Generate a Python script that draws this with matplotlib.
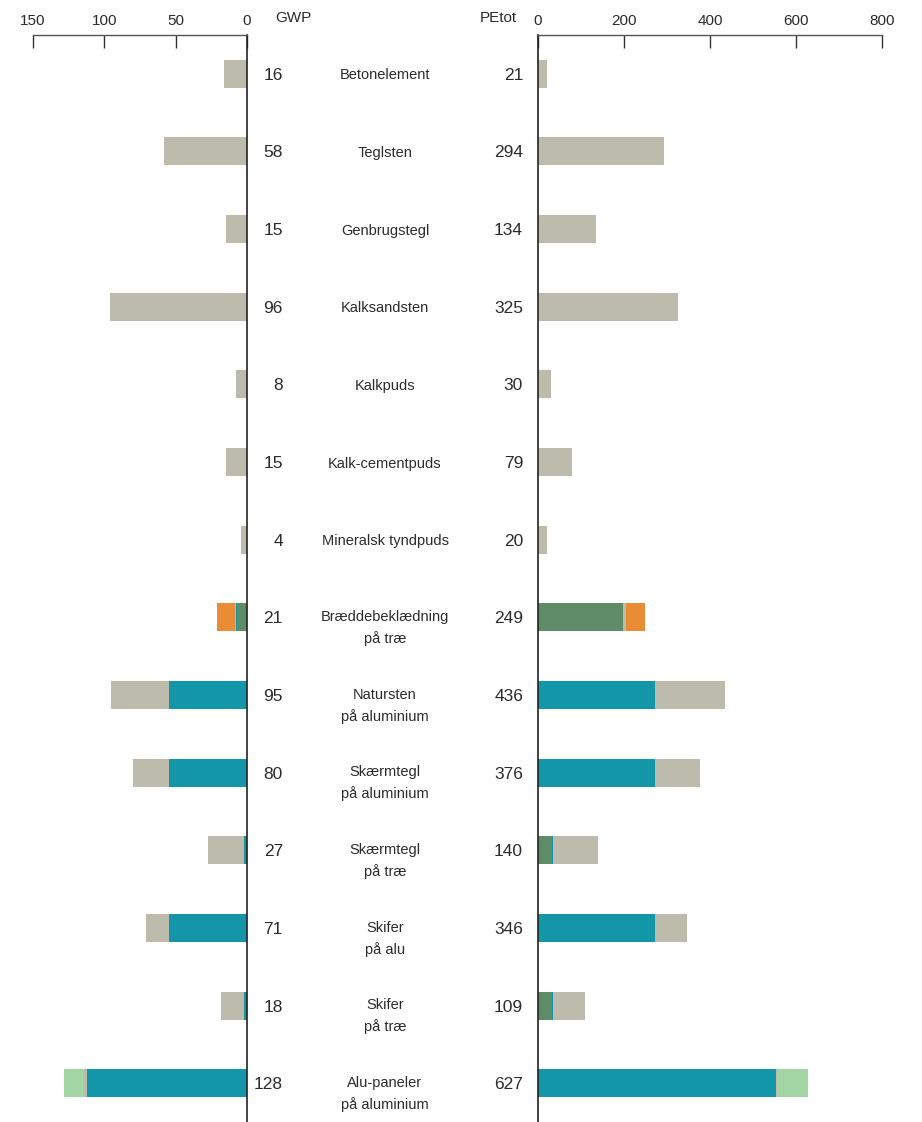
"""Butterfly bar chart: GWP vs PEtot per facade material"""
import matplotlib
matplotlib.use("Agg")
import matplotlib.pyplot as plt
import numpy as np
from matplotlib.transforms import blended_transform_factory

plt.rcParams['font.family'] = ['Liberation Sans', 'DejaVu Sans']

materials = [
    "Betonelement", "Teglsten", "Genbrugstegl", "Kalksandsten", "Kalkpuds",
    "Kalk-cementpuds", "Mineralsk tyndpuds", "Bræddebeklædning\npå træ",
    "Natursten\npå aluminium", "Skærmtegl\npå aluminium", "Skærmtegl\npå træ",
    "Skifer\npå alu", "Skifer\npå træ", "Alu-paneler\npå aluminium",
]

# stack order from the axis outwards: wood, alu, other, paint, lightgreen
gwp_wood = [0, 0, 0, 0, 0, 0, 0, 7, 0, 0, 0.7, 0, 0.7, 0]
gwp_alu = [0, 0, 0, 0, 0, 0, 0, 0.5, 55, 55, 1.3, 55, 1.3, 112.5]
gwp_other = [16, 58, 15, 96, 8, 15, 4, 1, 40, 25, 25, 16, 16, 1.5]
gwp_paint = [0, 0, 0, 0, 0, 0, 0, 12.5, 0, 0, 0, 0, 0, 0]
gwp_extra = [0, 0, 0, 0, 0, 0, 0, 0, 0, 0, 0, 0, 0, 14]
gwp_total = [16, 58, 15, 96, 8, 15, 4, 21, 95, 80, 27, 71, 18, 128]

pe_wood = [0, 0, 0, 0, 0, 0, 0, 197, 0, 0, 33, 0, 33, 0]
pe_alu = [0, 0, 0, 0, 0, 0, 0, 1, 272, 272, 2, 272, 2, 554]
pe_other = [21, 294, 134, 325, 30, 79, 20, 7, 164, 104, 105, 74, 74, 2]
pe_paint = [0, 0, 0, 0, 0, 0, 0, 44, 0, 0, 0, 0, 0, 0]
pe_extra = [0, 0, 0, 0, 0, 0, 0, 0, 0, 0, 0, 0, 0, 71]
pe_total = [21, 294, 134, 325, 30, 79, 20, 249, 436, 376, 140, 346, 109, 627]

colors = ["#5e8c67", "#1396a8", "#bdbbab", "#e88c36", "#a3d4a4"]
text_col = "#2b2b2b"

W, H = 922, 1122
fig = plt.figure(figsize=(W / 100, H / 100), dpi=100)

top = 35
ax_l = fig.add_axes([33 / W, 0, 214 / W, (H - top) / H])
ax_r = fig.add_axes([538 / W, 0, 344 / W, (H - top) / H])

y = np.arange(len(materials))
bar_h = 0.36


def stack(ax, parts):
    left = np.zeros(len(y))
    for vals, c in zip(parts, colors):
        vals = np.array(vals, dtype=float)
        ax.barh(y, vals, left=left, height=bar_h, color=c, linewidth=0)
        left += vals


stack(ax_l, [gwp_wood, gwp_alu, gwp_other, gwp_paint, gwp_extra])
stack(ax_r, [pe_wood, pe_alu, pe_other, pe_paint, pe_extra])

ax_l.set_xlim(150, 0)
ax_r.set_xlim(0, 800)
ax_l.set_xticks([150, 100, 50, 0])
ax_r.set_xticks([0, 200, 400, 600, 800])

for ax, keep in ((ax_l, "right"), (ax_r, "left")):
    ax.set_ylim(13.5, -0.5)
    ax.set_yticks([])
    for side in ("left", "right", "bottom"):
        ax.spines[side].set_visible(side == keep)
    ax.spines[keep].set_color("#222222")
    ax.spines[keep].set_linewidth(1.2)
    ax.spines["top"].set_color("#555555")
    ax.spines["top"].set_linewidth(1.0)
    ax.xaxis.tick_top()
    ax.tick_params(axis="x", direction="in", length=9.5, width=1.0,
                   color="#333333", labelsize=11, labelcolor=text_col, pad=5)

# column headers
fig.text(275 / W, 1 - 18 / H, "GWP", fontsize=11, color=text_col, va="center")
fig.text(480 / W, 1 - 18 / H, "PEtot", fontsize=11, color=text_col, va="center")

tr = blended_transform_factory(fig.transFigure, ax_l.transData)
for i in range(len(materials)):
    ax_l.text(283 / W, y[i], str(gwp_total[i]), transform=tr, ha="right",
              va="center_baseline", fontsize=12.5, color=text_col)
    ax_l.text(523 / W, y[i], str(pe_total[i]), transform=tr, ha="right",
              va="center_baseline", fontsize=12.5, color=text_col)
    lines = materials[i].split("\n")
    shift = 1.2 if len(lines) > 1 else 0
    for k, line in enumerate(lines):
        ax_l.annotate(line, xy=(385 / W, y[i]), xycoords=tr,
                      xytext=(0, shift - 15.5 * k), textcoords="offset points",
                      ha="center", va="center_baseline", fontsize=10.5,
                      color=text_col)

fig.savefig("out.png", dpi=100)
